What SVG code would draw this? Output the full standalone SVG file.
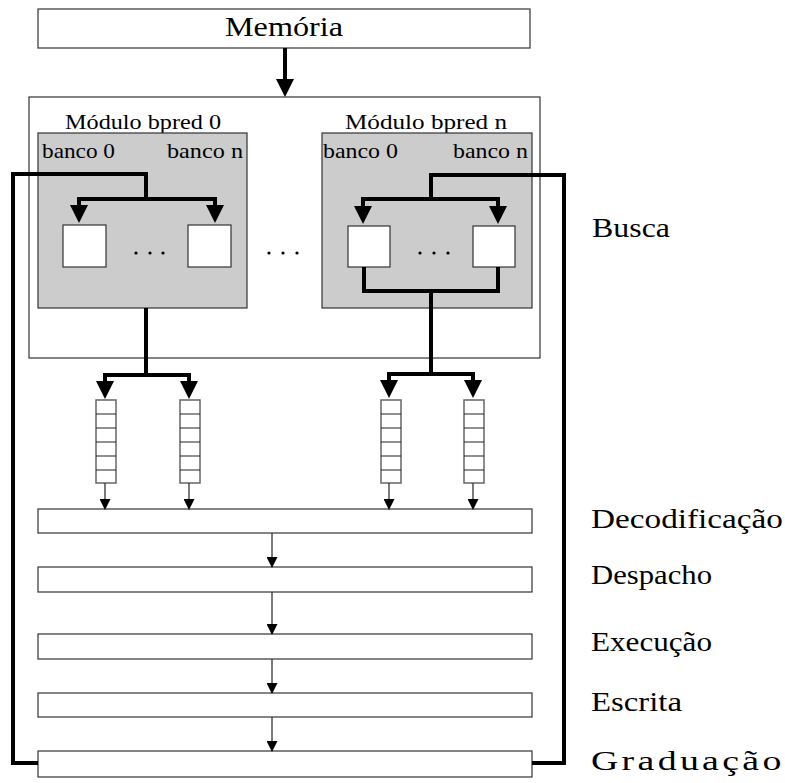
<svg xmlns="http://www.w3.org/2000/svg" width="785" height="783" viewBox="0 0 785 783">
  <style>
    .box { fill: #ffffff; stroke: #333333; stroke-width: 1.2; }
    .panel { fill: #cccccc; stroke: #333333; stroke-width: 1.2; }
    .queue { fill: #ffffff; stroke: #666666; stroke-width: 1.5; }
    .cell { stroke: #222222; stroke-width: 1.2; }
    .thick { fill: none; stroke: #000000; stroke-width: 4; stroke-linejoin: miter; }
    .thin { fill: none; stroke: #333333; stroke-width: 1.3; }
    text { font-family: 'Liberation Serif', 'DejaVu Serif', serif; fill: #000000; }
    .big { font-size: 28px; }
    .small { font-size: 22px; }
    .dot { fill: #000000; }
  </style>
  <defs>
    <marker id="headThick" markerUnits="userSpaceOnUse" viewBox="0 0 18 18" markerWidth="18" markerHeight="18" refX="8" refY="9" orient="auto-start-reverse">
      <path d="M0,0 L18,9 L0,18 z" fill="#000000"/>
    </marker>
    <marker id="headThin" markerUnits="userSpaceOnUse" viewBox="0 0 11 11" markerWidth="11" markerHeight="11" refX="4" refY="5.5" orient="auto-start-reverse">
      <path d="M0,0 L11,5.5 L0,11 z" fill="#000000"/>
    </marker>
  </defs>

  <!-- memory -->
  <g id="memoria">
    <rect class="box" x="38" y="9" width="492" height="39"/>
    <text class="big" x="225" y="36" textLength="118" lengthAdjust="spacingAndGlyphs">Memória</text>
  </g>

  <!-- fetch unit frame -->
  <g id="busca-frame">
    <rect class="box" x="29" y="97" width="511" height="261"/>
  </g>

  <g id="modulo-0">
    <text class="small" x="65" y="129" textLength="156" lengthAdjust="spacingAndGlyphs">Módulo bpred 0</text>
    <rect class="panel" x="38" y="133" width="209" height="175"/>
    <text class="small" x="42" y="158" textLength="73" lengthAdjust="spacingAndGlyphs">banco 0</text>
    <text class="small" x="167" y="158" textLength="76" lengthAdjust="spacingAndGlyphs">banco n</text>
    <rect class="box" x="63" y="225" width="43" height="42"/>
    <rect class="box" x="188" y="225" width="43" height="42"/>
    <circle class="dot" cx="136" cy="253" r="1.6"/>
    <circle class="dot" cx="150" cy="253" r="1.6"/>
    <circle class="dot" cx="163" cy="253" r="1.6"/>
  </g>

  <g id="modulos-reticencias">
    <circle class="dot" cx="269" cy="253" r="1.6"/>
    <circle class="dot" cx="283" cy="253" r="1.6"/>
    <circle class="dot" cx="297" cy="253" r="1.6"/>
  </g>

  <g id="modulo-n">
    <text class="small" x="345" y="129" textLength="162" lengthAdjust="spacingAndGlyphs">Módulo bpred n</text>
    <rect class="panel" x="322" y="133" width="210" height="175"/>
    <text class="small" x="323" y="158" textLength="75" lengthAdjust="spacingAndGlyphs">banco 0</text>
    <text class="small" x="453" y="158" textLength="75" lengthAdjust="spacingAndGlyphs">banco n</text>
    <rect class="box" x="348" y="226" width="42" height="41"/>
    <rect class="box" x="473" y="226" width="42" height="41"/>
    <circle class="dot" cx="420" cy="253" r="1.6"/>
    <circle class="dot" cx="434" cy="253" r="1.6"/>
    <circle class="dot" cx="448" cy="253" r="1.6"/>
  </g>

  <!-- instruction queues -->
  <g id="fila-1">
    <rect class="queue" x="96" y="400" width="20" height="83"/>
    <path class="cell" d="M96,414 H116 M96,428 H116 M96,442 H116 M96,456 H116 M96,470 H116"/>
  </g>
  <g id="fila-2">
    <rect class="queue" x="180" y="400" width="20" height="83"/>
    <path class="cell" d="M180,414 H200 M180,428 H200 M180,442 H200 M180,456 H200 M180,470 H200"/>
  </g>
  <g id="fila-3">
    <rect class="queue" x="381" y="400" width="20" height="83"/>
    <path class="cell" d="M381,414 H401 M381,428 H401 M381,442 H401 M381,456 H401 M381,470 H401"/>
  </g>
  <g id="fila-4">
    <rect class="queue" x="464" y="400" width="20" height="83"/>
    <path class="cell" d="M464,414 H484 M464,428 H484 M464,442 H484 M464,456 H484 M464,470 H484"/>
  </g>

  <!-- pipeline stages -->
  <g id="decodificacao"><rect class="box" x="38" y="509" width="494" height="24"/></g>
  <g id="despacho"><rect class="box" x="38" y="567" width="494" height="25"/></g>
  <g id="execucao"><rect class="box" x="38" y="634" width="494" height="25"/></g>
  <g id="escrita"><rect class="box" x="38" y="693" width="494" height="24"/></g>
  <g id="graduacao"><rect class="box" x="38" y="751" width="494" height="26"/></g>

  <!-- stage names -->
  <g id="rotulos">
    <text class="big" x="592" y="237" textLength="78" lengthAdjust="spacingAndGlyphs">Busca</text>
    <text class="big" x="591" y="528" textLength="192" lengthAdjust="spacingAndGlyphs">Decodificação</text>
    <text class="big" x="591" y="584" textLength="121" lengthAdjust="spacingAndGlyphs">Despacho</text>
    <text class="big" x="591" y="651" textLength="121" lengthAdjust="spacingAndGlyphs">Execução</text>
    <text class="big" x="591" y="711" textLength="91" lengthAdjust="spacingAndGlyphs">Escrita</text>
    <g transform="translate(591,770) scale(1.35,1)">
      <text class="big" x="0" y="0" textLength="141" lengthAdjust="spacing">Graduação</text>
    </g>
  </g>

  <!-- connectors -->
  <g id="conectores">
    <path class="thick" d="M285,48 V87" marker-end="url(#headThick)"/>

    <!-- feedback from graduation into both predictor modules -->
    <path class="thick" d="M38,763 H13 V174 H146 V199"/>
    <path class="thick" d="M79,213 V199 H215 V213" marker-start="url(#headThick)" marker-end="url(#headThick)"/>
    <path class="thick" d="M532,763 H564 V175 H431 V199"/>
    <path class="thick" d="M363,214 V199 H498 V214" marker-start="url(#headThick)" marker-end="url(#headThick)"/>

    <!-- predictor outputs to queues -->
    <path class="thick" d="M146,308 V375"/>
    <path class="thick" d="M105,389 V375 H189 V389" marker-start="url(#headThick)" marker-end="url(#headThick)"/>
    <path class="thick" d="M364,267 V291 H498 V267"/>
    <path class="thick" d="M431,291 V374"/>
    <path class="thick" d="M389,388 V374 H473 V388" marker-start="url(#headThick)" marker-end="url(#headThick)"/>

    <!-- queues to decode -->
    <path class="thin" d="M105,483 V503" marker-end="url(#headThin)"/>
    <path class="thin" d="M189,483 V503" marker-end="url(#headThin)"/>
    <path class="thin" d="M389,483 V503" marker-end="url(#headThin)"/>
    <path class="thin" d="M473,483 V503" marker-end="url(#headThin)"/>

    <!-- stage to stage -->
    <path class="thin" d="M272,533 V561" marker-end="url(#headThin)"/>
    <path class="thin" d="M272,592 V628" marker-end="url(#headThin)"/>
    <path class="thin" d="M272,659 V687" marker-end="url(#headThin)"/>
    <path class="thin" d="M272,717 V745" marker-end="url(#headThin)"/>
  </g>
</svg>
